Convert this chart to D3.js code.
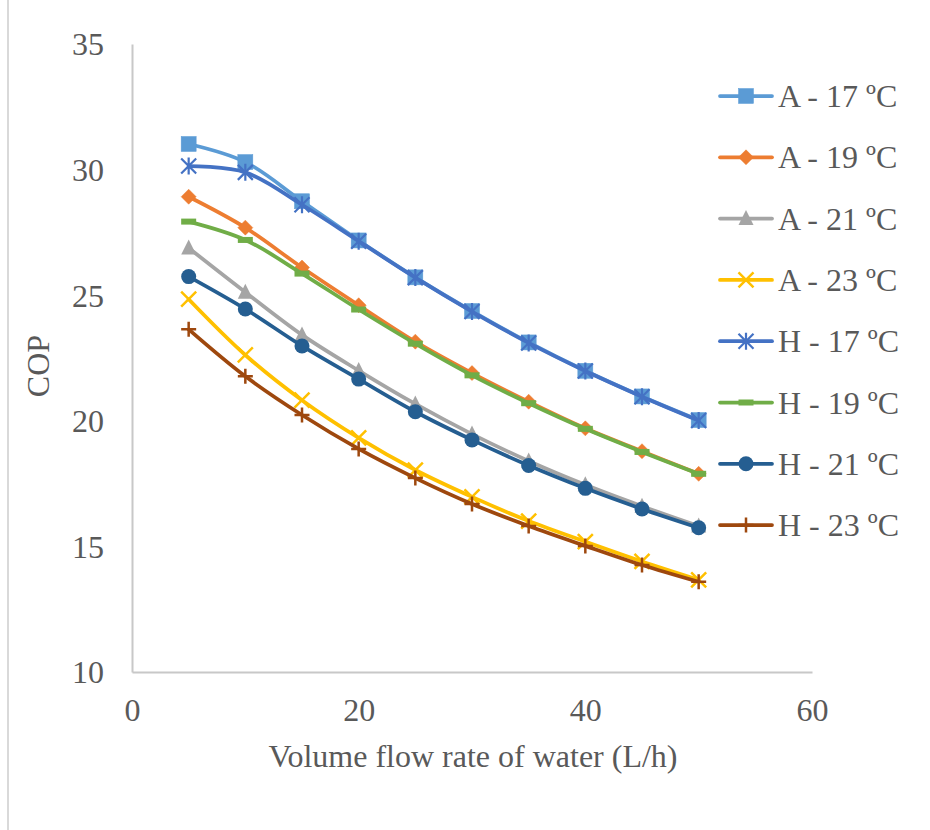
<!DOCTYPE html>
<html>
<head>
<meta charset="utf-8">
<script src="https://cdn.jsdelivr.net/npm/d3@7"></script>
<style>
  html, body { margin: 0; padding: 0; background: #fff; }
  svg { display: block; }
</style>
</head>
<body>
<svg id="chart" width="930" height="830"></svg>
<script>
const flowRates = [5, 10, 15, 20, 25, 30, 35, 40, 45, 50];
const seriesNames = ["A - 17 ºC", "A - 19 ºC", "A - 21 ºC", "A - 23 ºC", "H - 17 ºC", "H - 19 ºC", "H - 21 ºC", "H - 23 ºC"];
const A17 = [31.02, 30.30, 28.74, 27.18, 25.71, 24.37, 23.12, 21.99, 20.97, 20.03];
const A19 = [28.92, 27.69, 26.10, 24.60, 23.15, 21.90, 20.76, 19.70, 18.79, 17.89];
const A21 = [26.88, 25.12, 23.42, 22.00, 20.67, 19.47, 18.40, 17.45, 16.60, 15.81];
const A23 = [24.84, 22.62, 20.82, 19.32, 18.04, 16.97, 16.01, 15.19, 14.40, 13.67];
const H17 = [30.14, 29.89, 28.60, 27.15, 25.70, 24.35, 23.10, 21.98, 20.96, 20.01];
const H19 = [27.93, 27.20, 25.86, 24.43, 23.07, 21.81, 20.70, 19.68, 18.76, 17.89];
const H21 = [25.74, 24.45, 22.98, 21.66, 20.36, 19.24, 18.22, 17.31, 16.49, 15.74];
const H23 = [23.64, 21.77, 20.23, 18.88, 17.72, 16.69, 15.81, 15.02, 14.26, 13.59];
const xTicks = [0, 20, 40, 60];
const yTicks = [10, 15, 20, 25, 30, 35];

const seriesValues = [A17, A19, A21, A23, H17, H19, H21, H23];
const colors = ["#5B9BD5", "#ED7D31", "#A5A5A5", "#FFC000", "#4472C4", "#70AD47", "#255E91", "#9E480E"];
const markers = ["square", "diamond", "triangle", "x", "star", "dash", "circle", "plus"];

const svg = d3.select("#chart");
const font = "'Liberation Serif', 'Times New Roman', serif";
const textColor = "#595959";
const fs = 32;

// outer chart border (only left side visible)
svg.append("rect").attr("x", 8).attr("y", -10).attr("width", 960).attr("height", 860)
  .attr("fill", "none").attr("stroke", "#d9d9d9").attr("stroke-width", 2);

const x = d3.scaleLinear().domain([0, 60]).range([132, 812]);
const y = d3.scaleLinear().domain([10, 35]).range([672, 44]);

// axes
const xAxis = svg.append("g").attr("transform", "translate(0,672)")
  .call(d3.axisBottom(x).tickValues(xTicks).tickSize(0).tickPadding(0));
xAxis.select(".domain").attr("stroke", "#c8c8c8").attr("stroke-width", 2);
xAxis.selectAll("text").attr("dy", null).attr("y", 49)
  .attr("font-family", font).attr("font-size", fs).attr("fill", textColor);

const yAxis = svg.append("g").attr("transform", "translate(132,0)")
  .call(d3.axisLeft(y).tickValues(yTicks).tickSize(0).tickPadding(0));
yAxis.select(".domain").attr("stroke", "#c8c8c8").attr("stroke-width", 2);
yAxis.selectAll("text").attr("x", -28).attr("dy", "0.34em")
  .attr("font-family", font).attr("font-size", fs).attr("fill", textColor);

// axis titles
svg.append("text").attr("x", 473).attr("y", 767).attr("text-anchor", "middle")
  .attr("font-family", font).attr("font-size", fs).attr("fill", textColor)
  .text("Volume flow rate of water (L/h)");
svg.append("text").attr("transform", "translate(49,366) rotate(-90)").attr("text-anchor", "middle")
  .attr("font-family", font).attr("font-size", fs).attr("fill", textColor)
  .text("COP");

function drawMarker(g, type, cx, cy, color) {
  const s = 7.5;
  switch (type) {
    case "square":
      g.append("rect").attr("x", cx - s).attr("y", cy - s).attr("width", 2 * s).attr("height", 2 * s)
        .attr("fill", color).attr("stroke", color).attr("stroke-width", 0.5);
      break;
    case "diamond":
      g.append("path").attr("d", `M${cx},${cy - s}L${cx + s},${cy}L${cx},${cy + s}L${cx - s},${cy}Z`)
        .attr("fill", color).attr("stroke", color).attr("stroke-width", 0.5);
      break;
    case "triangle":
      g.append("path").attr("d", `M${cx},${cy - s - 1}L${cx + s},${cy + s - 1}L${cx - s},${cy + s - 1}Z`)
        .attr("fill", color);
      break;
    case "x":
      g.append("path").attr("d", `M${cx - s},${cy - s}L${cx + s},${cy + s}M${cx + s},${cy - s}L${cx - s},${cy + s}`)
        .attr("stroke", color).attr("stroke-width", 2.5).attr("fill", "none");
      break;
    case "star":
      g.append("path").attr("d", `M${cx - s},${cy - s}L${cx + s},${cy + s}M${cx + s},${cy - s}L${cx - s},${cy + s}M${cx},${cy - s - 1}L${cx},${cy + s + 1}`)
        .attr("stroke", color).attr("stroke-width", 2.2).attr("fill", "none");
      break;
    case "dash":
      g.append("rect").attr("x", cx - s).attr("y", cy - 3).attr("width", 2 * s).attr("height", 6)
        .attr("fill", color);
      break;
    case "circle":
      g.append("circle").attr("cx", cx).attr("cy", cy).attr("r", s).attr("fill", color);
      break;
    case "plus":
      g.append("path").attr("d", `M${cx - s},${cy}L${cx + s},${cy}M${cx},${cy - s}L${cx},${cy + s}`)
        .attr("stroke", color).attr("stroke-width", 2.5).attr("fill", "none");
      break;
  }
}

const line = d3.line()
  .x(d => x(d[0])).y(d => y(d[1]))
  .curve(d3.curveCatmullRom.alpha(0.5));

seriesValues.forEach((vals, i) => {
  const pts = flowRates.map((f, j) => [f, vals[j]]);
  const g = svg.append("g");
  g.append("path").datum(pts).attr("d", line)
    .attr("fill", "none").attr("stroke", colors[i]).attr("stroke-width", 3.75)
    .attr("stroke-linecap", "round").attr("stroke-linejoin", "round");
  pts.forEach(p => drawMarker(g, markers[i], x(p[0]), y(p[1]), colors[i]));
});

// legend
const legendTop = 96, legendStep = 61.3;
seriesNames.forEach((name, i) => {
  const cy = legendTop + i * legendStep;
  const g = svg.append("g");
  g.append("line").attr("x1", 720).attr("x2", 772).attr("y1", cy).attr("y2", cy)
    .attr("stroke", colors[i]).attr("stroke-width", 3.75).attr("stroke-linecap", "round");
  drawMarker(g, markers[i], 746, cy, colors[i]);
  g.append("text").attr("x", 778).attr("y", cy + 11)
    .attr("font-family", font).attr("font-size", fs).attr("fill", textColor)
    .text(name);
});
</script>
</body>
</html>
